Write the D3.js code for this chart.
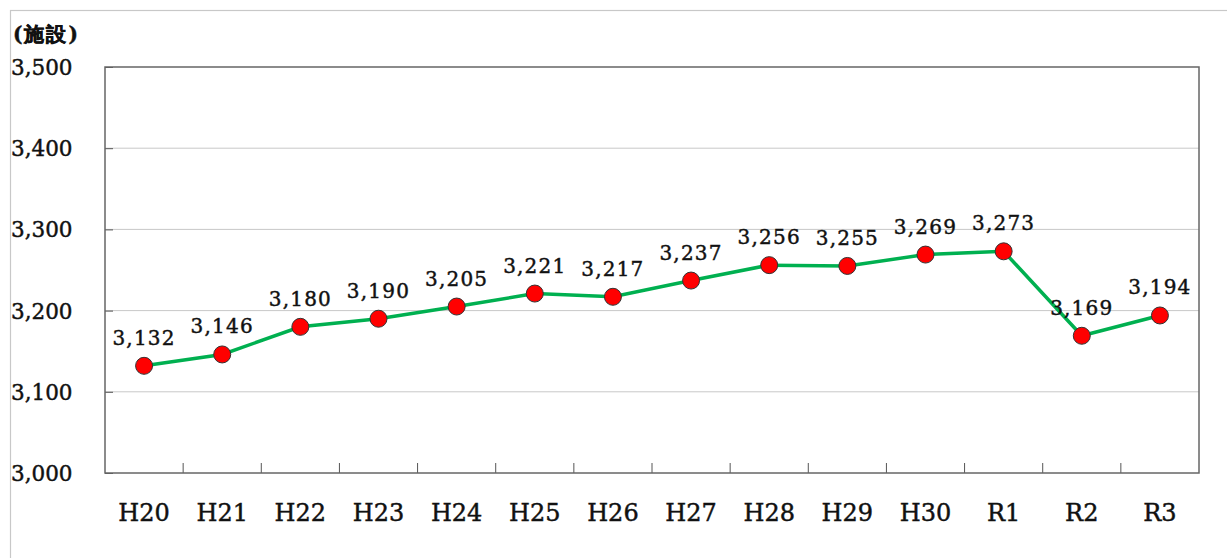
<!DOCTYPE html>
<html>
<head>
<meta charset="utf-8">
<script src="https://cdn.jsdelivr.net/npm/d3@7"></script>
<style>
  body { margin: 0; background: #fff; }
  svg text { font-family: "DejaVu Serif", serif; fill: #111; stroke: #111; stroke-width: 0.45; }
</style>
</head>
<body>
<svg id="chart" width="1227" height="558"></svg>
<script>
const categories = ["H20", "H21", "H22", "H23", "H24", "H25", "H26", "H27", "H28", "H29", "H30", "R1", "R2", "R3"];
const facilities = [3132, 3146, 3180, 3190, 3205, 3221, 3217, 3237, 3256, 3255, 3269, 3273, 3169, 3194];
const yTicks = [3000, 3100, 3200, 3300, 3400, 3500];

const svg = d3.select("#chart");
const plot = { left: 105, top: 67, right: 1199, bottom: 473 };

// outer frame
svg.append("rect").attr("x", 10.5).attr("y", 10.5)
    .attr("width", 1230).attr("height", 560)
    .attr("fill", "none").attr("stroke", "#c8c8c8").attr("stroke-width", 1.2);

const x = d3.scaleBand().domain(categories).range([plot.left, plot.right]);
const y = d3.scaleLinear().domain([3000, 3500]).range([plot.bottom, plot.top]);
const fmt = d3.format(",");

// gridlines
svg.append("g").selectAll("line").data(yTicks.slice(1, -1)).join("line")
    .attr("x1", plot.left).attr("x2", plot.right)
    .attr("y1", d => y(d)).attr("y2", d => y(d))
    .attr("stroke", "#c8c8c8").attr("stroke-width", 1);

// y axis, ticks inside
const yAxis = svg.append("g").attr("transform", `translate(${plot.left},0)`)
    .call(d3.axisRight(y).tickValues(yTicks).tickSize(8).tickFormat(""));
yAxis.select(".domain").remove();
yAxis.selectAll("line").attr("stroke", "#555");

svg.append("g").selectAll("text").data(yTicks).join("text")
    .attr("x", 11).attr("y", d => y(d) + 8)
    .attr("font-size", 21.5)
    .text(d => fmt(d));

// x axis, ticks between categories pointing up
const xTickPos = categories.slice(1).map(c => x(c));
svg.append("g").selectAll("line").data(xTickPos).join("line")
    .attr("x1", d => d).attr("x2", d => d)
    .attr("y1", plot.bottom).attr("y2", plot.bottom - 10)
    .attr("stroke", "#555");

svg.append("g").selectAll("text").data(categories).join("text")
    .attr("x", d => x(d) + x.bandwidth() / 2).attr("y", 521)
    .attr("text-anchor", "middle").attr("font-size", 24)
    .text(d => d);

// plot border
svg.append("rect").attr("x", plot.left).attr("y", plot.top)
    .attr("width", plot.right - plot.left).attr("height", plot.bottom - plot.top)
    .attr("fill", "none").attr("stroke", "#666").attr("stroke-width", 1.5);

// unit label
svg.append("text").attr("x", 13).attr("y", 41)
    .attr("font-family", "'Noto Sans CJK JP', sans-serif")
    .attr("font-weight", "bold").attr("font-size", 20)
    .attr("letter-spacing", 2).attr("stroke-width", 0)
    .text("(施設)");

// line
const line = d3.line()
    .x((d, i) => x(categories[i]) + x.bandwidth() / 2)
    .y(d => y(d));
svg.append("path").datum(facilities)
    .attr("d", line).attr("fill", "none")
    .attr("stroke", "#00b050").attr("stroke-width", 3.5);

// markers
svg.append("g").selectAll("circle").data(facilities).join("circle")
    .attr("cx", (d, i) => x(categories[i]) + x.bandwidth() / 2)
    .attr("cy", d => y(d)).attr("r", 8.5)
    .attr("fill", "#ff0000").attr("stroke", "#333").attr("stroke-width", 1);

// data labels
svg.append("g").selectAll("text").data(facilities).join("text")
    .attr("x", (d, i) => x(categories[i]) + x.bandwidth() / 2)
    .attr("y", d => y(d) - 21)
    .attr("text-anchor", "middle").attr("font-size", 20)
    .attr("letter-spacing", 1.2)
    .text(d => fmt(d));
</script>
</body>
</html>
